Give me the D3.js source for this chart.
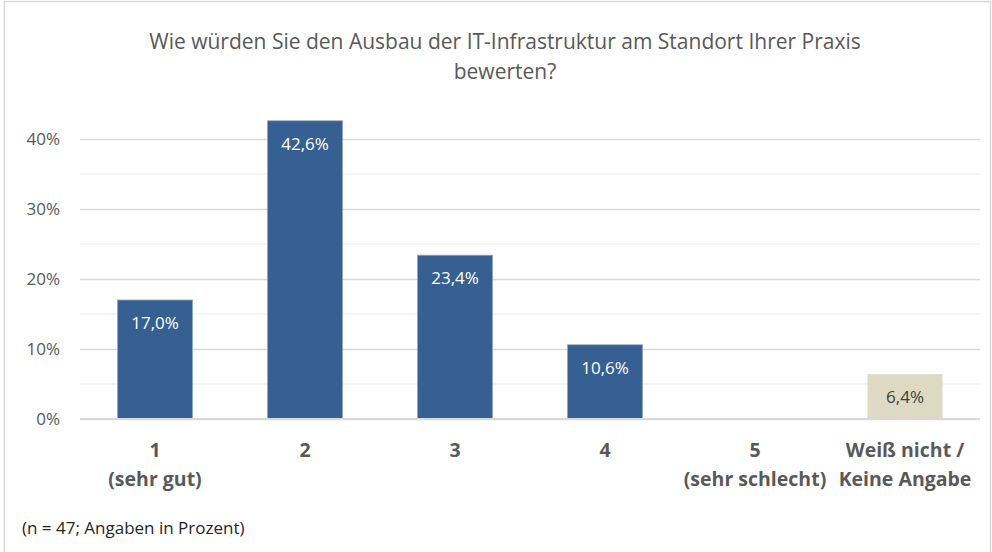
<!DOCTYPE html>
<html>
<head>
<meta charset="utf-8">
<script src="https://cdn.jsdelivr.net/npm/d3@7"></script>
<style>
  body { margin: 0; background: #fff; }
  text { font-family: "Open Sans", "Noto Sans", sans-serif; }
</style>
</head>
<body>
<script>
var categories = ["1|(sehr gut)", "2", "3", "4", "5|(sehr schlecht)", "Weiß nicht /|Keine Angabe"];
var values = [17.0, 42.6, 23.4, 10.6, 0, 6.4];
var barColors = ["#376092", "#376092", "#376092", "#376092", "#376092", "#ddd9c3"];
var yTicks = [0, 10, 20, 30, 40];
var minorTicks = [5, 15, 25, 35];
var titleLines = ["Wie würden Sie den Ausbau der IT-Infrastruktur am Standort Ihrer Praxis", "bewerten?"];
var footnote = "(n = 47; Angaben in Prozent)";

var svgWidth = 992;
var svgHeight = 552;

var margin = { top: 139, right: 12, bottom: 133, left: 80 };
var width = svgWidth - margin.left - margin.right;   // 900
var height = svgHeight - margin.top - margin.bottom; // 280

var svg = d3.select("body")
  .append("svg")
  .attr("width", svgWidth)
  .attr("height", svgHeight);

// chart frame
svg.append("rect")
  .attr("x", 4.5).attr("y", 1.5)
  .attr("width", svgWidth - 6).attr("height", svgHeight)
  .attr("fill", "#fff")
  .attr("stroke", "#d9d9d9")
  .attr("stroke-width", 1.5);

// title
var title = svg.append("text")
  .attr("text-anchor", "middle")
  .attr("fill", "#595959")
  .style("font-size", "21px");
titleLines.forEach(function(line, i) {
  title.append("tspan")
    .attr("x", 505)
    .attr("y", 49 + i * 30)
    .text(line);
});

var chartGroup = svg.append("g")
  .attr("transform", `translate(${margin.left}, ${margin.top})`);

var xScale = d3.scaleBand()
  .domain(categories)
  .range([0, width])
  .paddingInner(0.5)
  .paddingOuter(0.25);

var yScale = d3.scaleLinear()
  .domain([0, 40])
  .range([height, 0]);

// minor gridlines
chartGroup.selectAll(".minor")
  .data(minorTicks)
  .enter().append("line")
  .attr("x1", 0).attr("x2", width)
  .attr("y1", d => yScale(d)).attr("y2", d => yScale(d))
  .attr("stroke", "#f2f2f2")
  .attr("stroke-width", 1.5);

// major gridlines + y labels
var leftAxis = d3.axisLeft(yScale)
  .tickValues(yTicks)
  .tickSize(-width)
  .tickPadding(20)
  .tickFormat(d => d + "%");

var yAxis = chartGroup.append("g").call(leftAxis);
yAxis.select(".domain").remove();
yAxis.selectAll(".tick line")
  .attr("stroke", "#d9d9d9")
  .attr("stroke-width", 1.5);
yAxis.selectAll(".tick text")
  .attr("fill", "#595959")
  .style("font-size", "17px");

// bars
chartGroup.selectAll(".bar")
  .data(values)
  .enter().append("rect")
  .filter(d => d > 0)
  .attr("x", d => xScale(categories[values.indexOf(d)]))
  .attr("y", d => yScale(d))
  .attr("width", xScale.bandwidth())
  .attr("height", d => height - yScale(d))
  .attr("fill", d => barColors[values.indexOf(d)])
  .attr("stroke", d => values.indexOf(d) === 5 ? "none" : "#8fa6c4")
  .attr("stroke-width", 0.8);

// value labels
chartGroup.selectAll(".label")
  .data(values)
  .enter().append("text")
  .filter(d => d > 0)
  .attr("x", d => xScale(categories[values.indexOf(d)]) + xScale.bandwidth() / 2)
  .attr("y", d => yScale(d) + 29)
  .attr("text-anchor", "middle")
  .attr("fill", d => values.indexOf(d) === 5 ? "#404040" : "#ffffff")
  .style("font-size", "17px")
  .text(d => d.toFixed(1).replace(".", ",") + "%");

// baseline
chartGroup.append("line")
  .attr("x1", 0).attr("x2", width)
  .attr("y1", height).attr("y2", height)
  .attr("stroke", "#d9d9d9")
  .attr("stroke-width", 2);

// x labels
var bottomAxis = d3.axisBottom(xScale).tickSize(0).tickFormat("");
var xAxis = chartGroup.append("g")
  .attr("transform", "translate(0," + height + ")")
  .call(bottomAxis);
xAxis.select(".domain").remove();
xAxis.selectAll(".tick").each(function(d) {
  var t = d3.select(this).append("text")
    .attr("text-anchor", "middle")
    .attr("fill", "#595959")
    .style("font-size", "19.5px")
    .style("font-weight", "bold");
  d.split("|").forEach(function(line, i) {
    t.append("tspan").attr("x", 0).attr("y", 38 + i * 29).text(line);
  });
});

// footnote
svg.append("text")
  .attr("x", 22)
  .attr("y", 534)
  .attr("fill", "#262626")
  .style("font-size", "17px")
  .text(footnote);
</script>
</body>
</html>
